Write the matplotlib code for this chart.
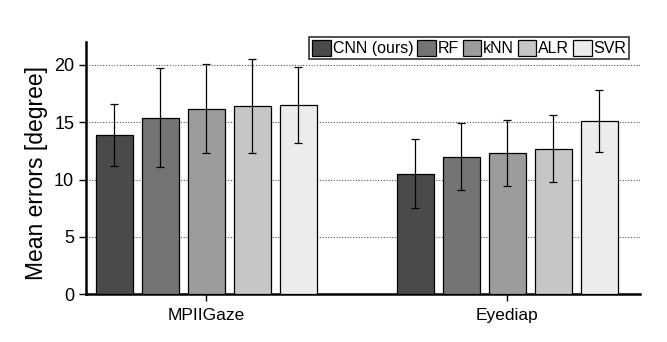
import numpy as np
import matplotlib
matplotlib.use("Agg")
import matplotlib.pyplot as plt

plt.rcParams['font.family'] = ['Liberation Sans', 'DejaVu Sans']

datasets = ["MPIIGaze", "Eyediap"]
methods = ["CNN (ours)", "RF", "kNN", "ALR", "SVR"]
colors = ["#4a4a4a", "#747474", "#9c9c9c", "#c6c6c6", "#ececec"]

# mean error per method, one value per dataset
means = {
    "CNN (ours)": [13.9, 10.5],
    "RF": [15.4, 12.0],
    "kNN": [16.2, 12.3],
    "ALR": [16.4, 12.7],
    "SVR": [16.5, 15.1],
}
stds = {
    "CNN (ours)": [2.7, 3.0],
    "RF": [4.3, 2.9],
    "kNN": [3.9, 2.9],
    "ALR": [4.1, 2.9],
    "SVR": [3.3, 2.7],
}

fig = plt.figure(figsize=(6.67, 3.42), dpi=100)
ax = fig.add_axes([0.129, 0.14, 0.831, 0.737])

x = np.arange(len(datasets))
step = 0.153
width = 0.123

for i, m in enumerate(methods):
    ax.bar(x + (i - 2) * step, means[m], width, color=colors[i],
           edgecolor="black", linewidth=0.9, label=m, zorder=3,
           yerr=stds[m], capsize=3,
           error_kw=dict(ecolor="black", elinewidth=0.9, capthick=0.9))

ax.set_xlim(-0.399, 1.442)
ax.set_ylim(0, 22)
ax.set_yticks([0, 5, 10, 15, 20])
ax.set_xticks(x)
ax.set_xticklabels(datasets, fontsize=12.5)
ax.tick_params(axis="y", labelsize=13, width=1, length=5)
ax.tick_params(axis="x", width=1, length=5, pad=5)
ax.set_ylabel("Mean errors [degree]", fontsize=16.5)
ax.yaxis.set_label_coords(-0.069, 0.48)

ax.yaxis.grid(True, linestyle=(0, (1, 1.5)), color="#555555", linewidth=0.8, zorder=0)
ax.spines["top"].set_visible(False)
ax.spines["right"].set_visible(False)
ax.spines["left"].set_linewidth(1.8)
ax.spines["bottom"].set_linewidth(1.8)

leg = ax.legend(ncol=5, loc="upper right", bbox_to_anchor=(0.98, 1.02),
                fontsize=11.5, frameon=True, fancybox=False, edgecolor="black",
                handlelength=1.15, handleheight=1.2, handletextpad=0.12,
                columnspacing=0.25, borderpad=0.18, borderaxespad=0)
leg.get_frame().set_linewidth(1.2)

fig.savefig("out.png", dpi=100)
